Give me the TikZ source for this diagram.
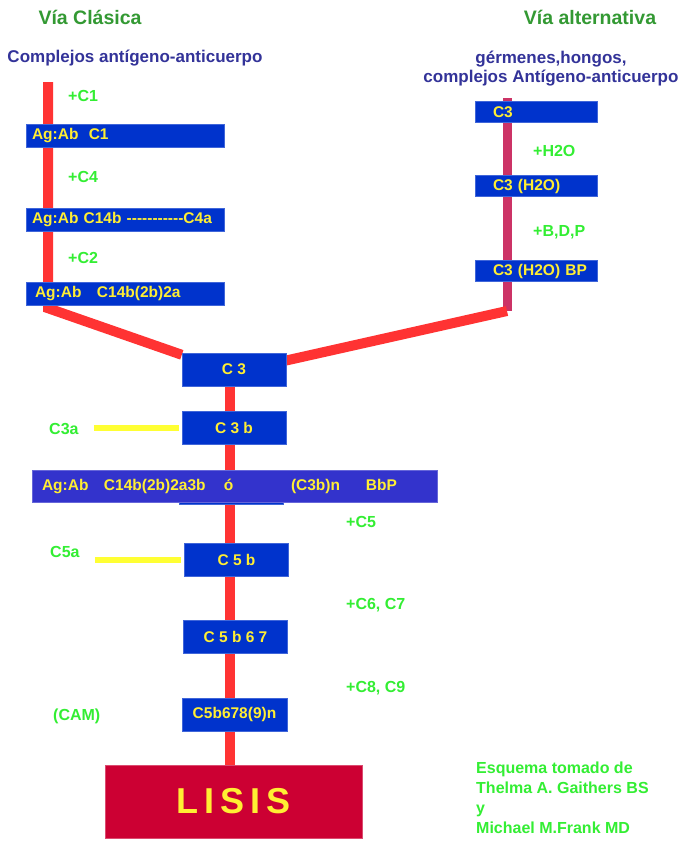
\documentclass[tikz,border=0pt]{standalone}
\usepackage{fontspec}
\setmainfont{Liberation Sans}
\usetikzlibrary{positioning}
\definecolor{boxblue}{HTML}{0033CC}
\definecolor{wideblue}{HTML}{3333CC}
\definecolor{linered}{HTML}{FF3333}
\definecolor{linepink}{HTML}{CC3366}
\definecolor{lisisred}{HTML}{CC0033}
\definecolor{txtyellow}{HTML}{FFEE33}
\definecolor{baryellow}{HTML}{FFFF33}
\definecolor{labgreen}{HTML}{33EE33}
\definecolor{titlegreen}{HTML}{339933}
\definecolor{subblue}{HTML}{333399}
\pgfdeclarelayer{back}
\pgfsetlayers{back,main}

\begin{document}
\begin{tikzpicture}[x=1pt,y=-1pt]
        \tikzstyle{lbox} = [rectangle, fill=boxblue, draw=boxblue!75!white, minimum height=23pt, text width=186pt, inner xsep=6pt, inner ysep=0pt, align=left, text=txtyellow, font=\bfseries\fontsize{15.5}{18}\selectfont]
        \tikzstyle{rbox} = [lbox, minimum height=21pt, text width=110pt, inner xsep=6pt, execute at begin node={\hspace*{12pt}}]
        \tikzstyle{cbox} = [rectangle, fill=boxblue, draw=boxblue!75!white, minimum width=104pt, minimum height=33pt, inner sep=0pt, text=txtyellow, font=\bfseries\fontsize{15.5}{18}\selectfont]
        \tikzstyle{glab} = [inner sep=0pt, anchor=west, text=labgreen, font=\bfseries\fontsize{16}{19}\selectfont]
        \tikzstyle{redline} = [draw=linered, line width=10pt]
        \tikzstyle{yline} = [draw=baryellow, line width=6pt]
        \useasboundingbox (0,0) rectangle (683,841);
        \node [text=titlegreen, font=\bfseries\fontsize{19.5}{22}\selectfont] (viaclas) at (90,17) {Vía Clásica};
        \node [text=titlegreen, font=\bfseries\fontsize{19.5}{22}\selectfont] (viaalt) at (590,17) {Vía alternativa};
        \node [text=subblue, font=\bfseries\fontsize{17}{19}\selectfont] (agab) at (135,58) {Complejos antígeno-anticuerpo};
        \node [text=subblue, align=center, font=\bfseries\fontsize{17}{19}\selectfont] (germ) at (551,69) {gérmenes,hongos,\\complejos Antígeno-anticuerpo};
        \node [lbox] (agc1) at (125,136) {Ag:Ab\ \ C1};
        \node [lbox] (agc4) at (125,219.5) {Ag:Ab C14b -{}-{}-{}-{}-{}-{}-{}-{}-{}-{}-C4a};
        \node [lbox] (agc2) at (125,293.5) {\hspace*{3pt}Ag:Ab\ \ \ C14b(2b)2a};
        \node [glab] (pc1) at (68,96) {+C1};
        \node [glab] (pc4) at (68,177) {+C4};
        \node [glab] (pc2) at (68,258) {+C2};
        \node [rbox] (rc3) at (536,112) {C3};
        \node [rbox] (rh2o) at (536,186) {C3 (H2O)};
        \node [rbox] (rbp) at (536,271) {C3 (H2O) BP};
        \node [glab] (ph2o) at (533,151) {+H2O};
        \node [glab] (pbdp) at (533,232) {+B,D,P};
        \node [cbox] (c3) at (234,369.5) {C 3};
        \node [cbox] (c3b) at (234,428) {C 3 b};
        \node [cbox, minimum height=34pt] (c3bn) at (231.5,487) {};
        \node [lbox, fill=wideblue, draw=wideblue!75!white, minimum height=32pt, text width=385pt, inner xsep=10pt] (agc3b) at (234.5,486) {\makebox[62pt][l]{Ag:Ab}\makebox[120pt][l]{C14b(2b)2a3b}\makebox[67pt][l]{ó}\makebox[75pt][l]{(C3b)n}BbP};
        \node [cbox] (c5b) at (236.5,559.5) {C 5 b};
        \node [cbox] (c567) at (235.5,636.5) {C 5 b 6 7};
        \node [cbox, minimum width=105pt] (c5b9) at (234.5,714.5) {C5b678(9)n};
        \node [rectangle, fill=lisisred, draw=lisisred!70!white, minimum width=257pt, minimum height=73pt, text=txtyellow, font=\bfseries\fontsize{36}{40}\selectfont] (lisis) at (233.5,801.5) {L\hspace{6pt}I\hspace{6pt}S\hspace{6pt}I\hspace{6pt}S};
        \node [glab] (c3a) at (49,429) {C3a};
        \node [glab] (c5a) at (50,552) {C5a};
        \node [glab] (pc5) at (346,522) {+C5};
        \node [glab] (pc67) at (346,605) {+C6, C7};
        \node [glab] (pc89) at (346,688) {+C8, C9};
        \node [glab] (cam) at (53,716) {(CAM)};
        \node [glab, anchor=north west, align=left, font=\bfseries\fontsize{16}{20}\selectfont] (credit) at (476,762) {Esquema tomado de\\Thelma A. Gaithers BS\\y\\Michael M.Frank MD};
        \coordinate (ltop) at (48,82);
        \coordinate (rtop) at (507,98);
        \coordinate (rfoot) at (507,311);
        \coordinate (spine) at (230,0);
        \begin{pgfonlayer}{back}
        \fill [white] (0,0) rectangle (683,841);
        \draw [redline] (ltop) -- ([yshift=-3pt]ltop |- agc2.south) -- ([yshift=-2pt]c3.north west);
        \draw [draw=linepink, line width=9pt] (rtop) -- (rfoot);
        \draw [redline] (rfoot) -- ([yshift=9pt]c3.east);
        \draw [redline] (c3.south -| spine) -- (lisis.north -| spine);
        \draw [yline] ([xshift=15pt]c3a.east |- c3b.west) -- ([xshift=-3pt]c3b.west);
        \draw [yline] ([xshift=15pt]c5a.east |- c5b.west) -- ([xshift=-3pt]c5b.west);
        \end{pgfonlayer}
    \end{tikzpicture}
\end{document}
